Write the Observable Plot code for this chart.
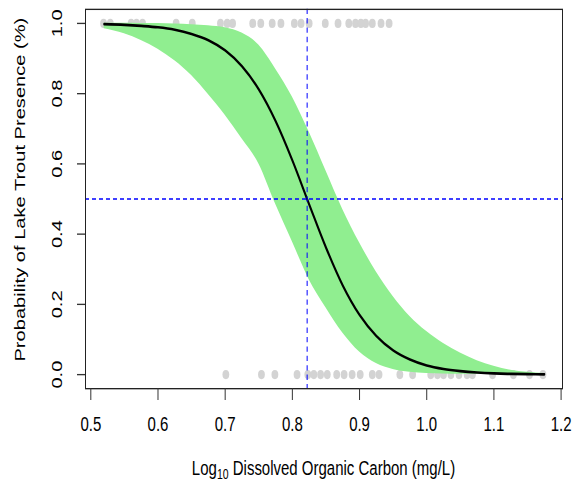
<!DOCTYPE html>
<html><head><meta charset="utf-8">
<script src="https://cdn.jsdelivr.net/npm/d3@7"></script>
<script src="https://cdn.jsdelivr.net/npm/@observablehq/plot@0.6"></script>
<style>body{margin:0;background:#fff;} #chart svg{display:block;}</style>
</head><body><div id="chart"></div>
<script>
// Observed lakes with lake trout present (p = 1) and absent (p = 0)
const presenceX = [0.519, 0.529, 0.560, 0.568, 0.577, 0.627, 0.651, 0.693, 0.703, 0.711, 0.741, 0.753, 0.770, 0.783, 0.803, 0.813, 0.825, 0.849, 0.868, 0.884, 0.894, 0.902, 0.909, 0.919, 0.932, 0.944];
const absenceX = [0.701, 0.754, 0.774, 0.807, 0.823, 0.832, 0.842, 0.852, 0.866, 0.877, 0.889, 0.901, 0.919, 0.929, 0.960, 0.979, 1.006, 1.016, 1.025, 1.036, 1.048, 1.060, 1.068, 1.098, 1.129, 1.153, 1.173];
// Fitted logistic curve and its confidence band
const fitX = [0.52, 0.55, 0.575, 0.6, 0.625, 0.65, 0.675, 0.7, 0.725, 0.75, 0.775, 0.8, 0.825, 0.85, 0.875, 0.9, 0.925, 0.95, 0.975, 1.0, 1.025, 1.05, 1.075, 1.1, 1.125, 1.15, 1.175];
const fitP = [0.998, 0.996, 0.993, 0.989, 0.982, 0.970, 0.952, 0.923, 0.878, 0.812, 0.722, 0.610, 0.485, 0.362, 0.254, 0.170, 0.110, 0.069, 0.043, 0.026, 0.016, 0.010, 0.006, 0.0035, 0.002, 0.0013, 0.0008];
const upperP = [1.0, 0.9997, 0.9995, 0.999, 0.998, 0.996, 0.993, 0.987, 0.972, 0.938, 0.870, 0.790, 0.690, 0.580, 0.470, 0.375, 0.292, 0.222, 0.165, 0.122, 0.088, 0.061, 0.039, 0.023, 0.012, 0.006, 0.003];
const lowerP = [0.984, 0.970, 0.951, 0.926, 0.893, 0.851, 0.797, 0.738, 0.671, 0.600, 0.485, 0.378, 0.270, 0.190, 0.118, 0.064, 0.031, 0.014, 0.006, 0.003, 0.0015, 0.0008, 0.0004, 0.0002, 0.0001, 0.0001, 0.0];
const xTicks = [0.5, 0.6, 0.7, 0.8, 0.9, 1.0, 1.1, 1.2];
const yTicks = [0, 0.2, 0.4, 0.6, 0.8, 1.0];
const cutoffX = 0.822;
const cutoffP = 0.5;
const yTitle = "Probability of Lake Trout Presence (%)";

const W = 587, H = 489, S = 1.34, PH = H / S;
const font = "'Liberation Sans', Arial, Helvetica, sans-serif";
const band = fitX.map((x, i) => ({x, p: fitP[i], lo: lowerP[i], hi: upperP[i]}));
const pts = presenceX.map(x => ({x, p: 1})).concat(absenceX.map(x => ({x, p: 0})));

const chart = Plot.plot({
  width: W, height: PH,
  marginLeft: 85, marginRight: 25, marginTop: 8.7 / S, marginBottom: (H - 388) / S,
  style: {fontFamily: font, fontSize: "15px", color: "#000", background: "#fff"},
  x: {domain: [0.4921, 1.2021]},
  y: {domain: [-0.04, 1.04]},
  marks: [
    Plot.dot(pts, {x: "x", y: "p", r: 3.4, fill: "#d3d3d3", stroke: "none"}),
    Plot.areaY(band, {x: "x", y1: "lo", y2: "hi", fill: "#90ee90", curve: "monotone-x"}),
    Plot.line(band, {x: "x", y: "p", stroke: "#000", strokeWidth: 2, curve: "monotone-x"}),
    Plot.ruleX([cutoffX], {stroke: "#0000ff", strokeWidth: 1, strokeDasharray: "4,3"}),
    Plot.ruleY([cutoffP], {stroke: "#0000ff", strokeWidth: 1, strokeDasharray: "4,3"}),
    Plot.frame({stroke: "#222"}),
    Plot.axisX(xTicks, {tickSize: 9, tickPadding: 12, tickFormat: d => d.toFixed(1), fontSize: 15, label: null, stroke: "#333"}),
    Plot.axisY(yTicks, {tickSize: 8, tickPadding: 16, tickRotate: -90, tickFormat: d => d.toFixed(1), fontSize: 15, label: null, stroke: "#333"}),
    Plot.text([yTitle], {frameAnchor: "left", textAnchor: "middle", lineAnchor: "middle", dx: -65, dy: -7, rotate: -90, fontSize: 15, fill: "#000"})
  ]
});

const svg = d3.select(chart);
const xt = svg.append("text")
  .attr("x", 323.5).attr("y", 475 / S)
  .attr("text-anchor", "middle")
  .attr("font-family", font).attr("font-size", 15).attr("fill", "#000");
xt.append("tspan").text("Log");
xt.append("tspan").attr("font-size", 10.5).attr("dy", 3).text("10");
xt.append("tspan").attr("dy", -3).text(" Dissolved Organic Carbon (mg/L)");

chart.setAttribute("height", H);
chart.setAttribute("preserveAspectRatio", "none");
chart.style.height = H + "px";
chart.style.width = W + "px";
chart.style.maxWidth = "none";
document.getElementById("chart").appendChild(chart);
</script>
</body></html>
